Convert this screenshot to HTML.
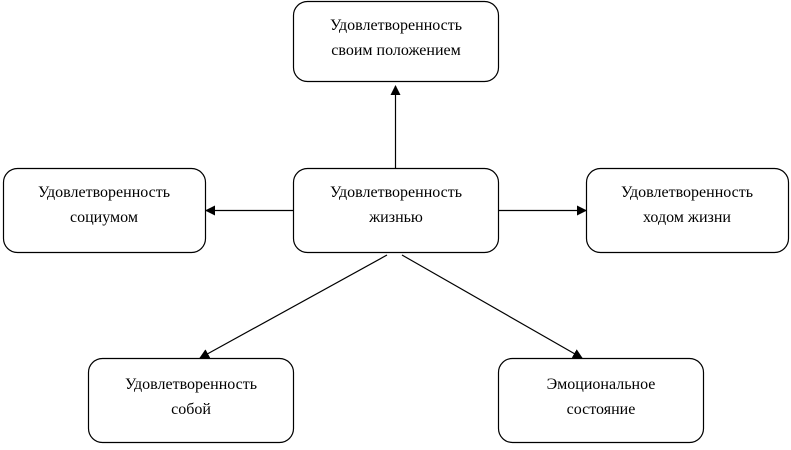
<!DOCTYPE html>
<html><head><meta charset="utf-8"><style>
body{margin:0;background:#fff;width:791px;height:445px;overflow:hidden;}
svg text{font-family:"Liberation Serif",serif;font-size:16px;fill:#000;text-anchor:middle;}
</style></head><body>
<svg width="791" height="445" viewBox="0 0 791 445" xmlns="http://www.w3.org/2000/svg">
<defs><marker id="a" markerWidth="10" markerHeight="10" refX="9" refY="5" orient="auto" markerUnits="userSpaceOnUse"><path d="M0,0 L10,5 L0,10 z" fill="#000"/></marker></defs>
<g fill="#fff" stroke="#000" stroke-width="1.2">
<rect x="293.5" y="1.5" width="205" height="80" rx="14"/>
<rect x="293.5" y="168.5" width="205" height="84" rx="14"/>
<rect x="3.5" y="168.5" width="202" height="84" rx="14"/>
<rect x="586.5" y="168.5" width="202" height="84" rx="14"/>
<rect x="88.5" y="358.5" width="205" height="84" rx="14"/>
<rect x="498.5" y="358.5" width="205" height="84" rx="14"/>
</g>
<g stroke="#000" stroke-width="1.2" marker-end="url(#a)">
<line x1="395.5" y1="168" x2="395.5" y2="86"/>
<line x1="293" y1="210.5" x2="206" y2="210.5"/>
<line x1="499" y1="210.5" x2="586" y2="210.5"/>
<line x1="387" y1="255" x2="200" y2="358"/>
<line x1="402" y1="255" x2="582" y2="358"/>
</g>
<text x="396" y="30">Удовлетворенность</text><text x="396" y="55">своим положением</text>
<text x="396" y="197">Удовлетворенность</text><text x="396" y="222">жизнью</text>
<text x="104" y="197">Удовлетворенность</text><text x="104" y="222">социумом</text>
<text x="687" y="197">Удовлетворенность</text><text x="687" y="222">ходом жизни</text>
<text x="191" y="389">Удовлетворенность</text><text x="191" y="414">собой</text>
<text x="601" y="389">Эмоциональное</text><text x="601" y="414">состояние</text>
</svg>
</body></html>
